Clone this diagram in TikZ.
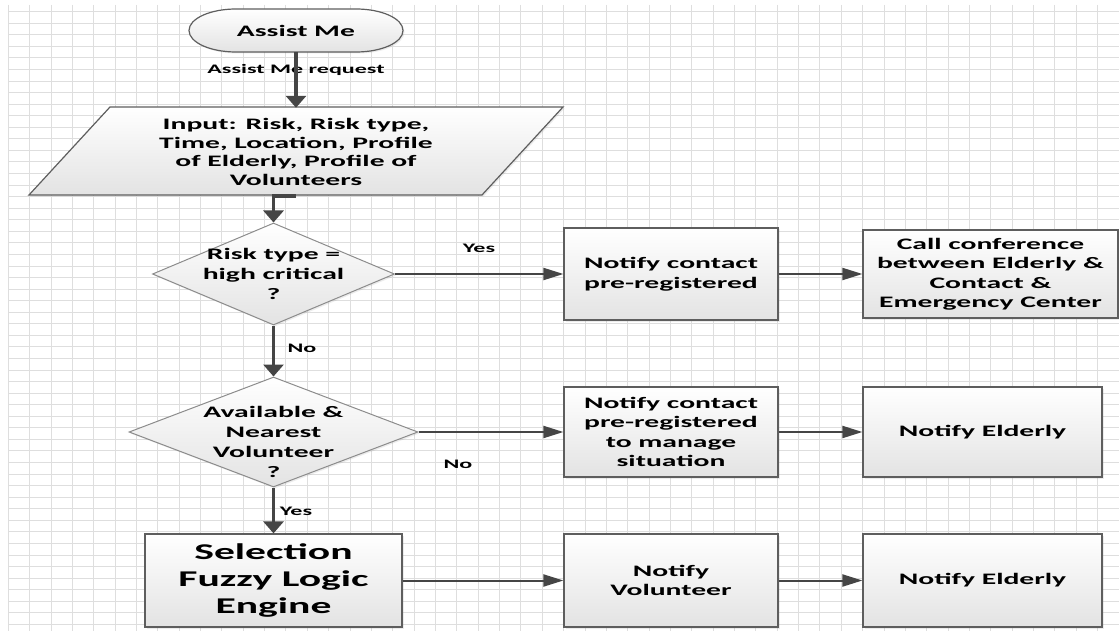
\documentclass[tikz,border=0pt]{standalone}
\usepackage{fontspec}
\setmainfont{Carlito}[FakeStretch=1.85]
\usetikzlibrary{shapes.geometric,arrows.meta,shadows}

\definecolor{gridc}{HTML}{DEDEDE}
\definecolor{linec}{HTML}{454545}
\definecolor{edgec}{HTML}{5E5E5E}
\definecolor{diac}{HTML}{8C8C8C}
\definecolor{fillbot}{HTML}{E3E3E3}

\tikzset{
  shapefill/.style={top color=white, bottom color=fillbot},
  shd/.style={drop shadow={shadow xshift=1.5pt, shadow yshift=-1.5pt, opacity=0.15, fill=black!50}},
  stepbox/.style={rectangle, draw=edgec, line width=1.2pt, shapefill, shd, align=center,
    font=\bfseries\fontsize{16}{19.5}\selectfont, inner sep=0pt},
  bigbox/.style={stepbox, font=\bfseries\fontsize{22.5}{27}\selectfont},
  decision/.style={diamond, draw=diac, line width=1pt, shapefill, shd, inner sep=0pt},
  dtext/.style={align=center, font=\bfseries\fontsize{16}{20}\selectfont, inner sep=0pt},
  plaintext/.style={align=center, font=\bfseries\fontsize{16}{18.7}\selectfont, inner sep=0pt},
  lbl/.style={font=\bfseries\fontsize{13}{15}\selectfont, inner sep=0pt},
  vflow/.style={draw=linec, line width=3.5pt, -{Triangle[length=12pt,width=20pt]}},
  hflow/.style={draw=linec, line width=2pt, -{Triangle[length=20pt,width=12pt]}},
}

\begin{document}
\begin{tikzpicture}[x=1pt, y=-1pt]
  % canvas
  \fill[white] (0,0) rectangle (1119,631);
  \useasboundingbox (0,0) rectangle (1119,631);

  % drawing-sheet grid
  \foreach \k in {0,...,52}
    \draw[gridc, line width=1pt] ({8.3+21.36*\k},5) -- ({8.3+21.36*\k},631);
  \foreach \k in {0,...,53}
    \draw[gridc, line width=1pt] (8.3,{11.7+11.56*\k}) -- (1119,{11.7+11.56*\k});

  % start terminator
  \path[draw=edgec, line width=1.2pt, shapefill, shd]
    (236,9) -- (356,9)
    arc[start angle=-90, end angle=90, x radius=47, y radius=21.5]
    -- (236,52)
    arc[start angle=90, end angle=270, x radius=47, y radius=21.5] -- cycle;
  \node[plaintext, minimum width=215pt, minimum height=43pt] (start) at (296,30.5) {Assist Me};

  % input parallelogram
  \path[draw=edgec, line width=1.2pt, shapefill, shd]
    (110,107) -- (563,107) -- (482,195) -- (29,195) -- cycle;
  \node[plaintext, minimum width=370pt, minimum height=88pt] (input) at (296,152)
    {Input: Risk, Risk type,\\Time, Location, Profile\\of Elderly, Profile of\\Volunteers};

  % decisions
  \node[decision, minimum width=242pt, minimum height=102pt] (d1) at (273.5,274) {};
  \node[dtext] at (273.5,274) {Risk type =\\high critical\\?};
  \node[decision, minimum width=289pt, minimum height=110pt] (d2) at (273.5,432) {};
  \node[dtext] at (273.5,441.5) {Available \&\\Nearest\\Volunteer\\?};

  % process boxes
  \node[stepbox, minimum width=214pt, minimum height=92pt] (b1) at (671,274)
    {Notify contact\\pre-registered};
  \node[stepbox, minimum width=255pt, minimum height=88pt] (b2) at (990.5,274)
    {Call conference\\between Elderly \&\\Contact \&\\Emergency Center};
  \node[stepbox, minimum width=214pt, minimum height=90pt] (b3) at (671,432)
    {Notify contact\\pre-registered\\to manage\\situation};
  \node[stepbox, minimum width=239pt, minimum height=90pt] (b4) at (982.5,432)
    {Notify Elderly};
  \node[bigbox, minimum width=257pt, minimum height=93pt] (sel) at (273.5,580.5)
    {Selection\\Fuzzy Logic\\Engine};
  \node[stepbox, minimum width=214pt, minimum height=93pt] (b5) at (671,580.5)
    {Notify\\Volunteer};
  \node[stepbox, minimum width=239pt, minimum height=93pt] (b6) at (982.5,580.5)
    {Notify Elderly};

  % connector labels
  \node[lbl] at (296,70) {Assist Me request};
  \node[lbl] at (479,248) {Yes};
  \node[lbl] at (302,348) {No};
  \node[lbl] at (458,464) {No};
  \node[lbl] at (296,511) {Yes};

  % vertical flow
  \draw[vflow] (start.south) -- (input.north);
  \draw[vflow] (input.south) -| (d1.north);
  \draw[vflow] (d1.south) -- (d2.north);
  \draw[vflow] (d2.south) -- (sel.north);

  % horizontal flow
  \draw[hflow] (d1.east) -- (b1.west);
  \draw[hflow] (b1.east) -- (b2.west);
  \draw[hflow] (d2.east) -- (b3.west);
  \draw[hflow] (b3.east) -- (b4.west);
  \draw[hflow] (sel.east) -- (b5.west);
  \draw[hflow] (b5.east) -- (b6.west);
\end{tikzpicture}
\end{document}
